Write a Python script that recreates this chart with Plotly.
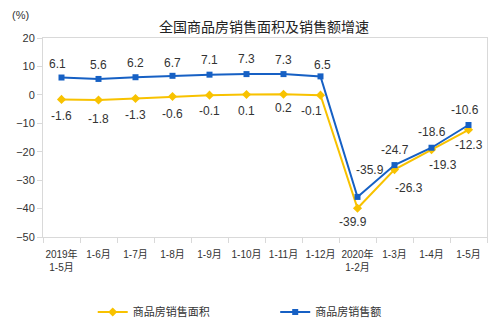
import plotly.graph_objects as go

# Reporting periods (cumulative since January)
periods = ["2019年<br>1-5月", "1-6月", "1-7月", "1-8月", "1-9月", "1-10月",
           "1-11月", "1-12月", "2020年<br>1-2月", "1-3月", "1-4月", "1-5月"]

# Year-on-year growth, %
area_growth = [-1.6, -1.8, -1.3, -0.6, -0.1, 0.1, 0.2, -0.1, -39.9, -26.3, -19.3, -12.3]
sales_growth = [6.1, 5.6, 6.2, 6.7, 7.1, 7.3, 7.3, 6.5, -35.9, -24.7, -18.6, -10.6]

y_ticks = [20, 10, 0, -10, -20, -30, -40, -50]

AREA_NAME = "商品房销售面积"
SALES_NAME = "商品房销售额"

YELLOW = "#F8C200"
BLUE = "#1660C4"
FONT = "Liberation Sans, Arial, Noto Sans CJK SC"
TEXT = "#333333"

# Label offsets in pixels (dx, dy) for each point
sales_offsets = [(-4, 14), (0, 14), (0, 14), (0, 13), (0, 15), (0, 15), (0, 14), (2, 11),
                 (12, 27), (0, 15), (0, 16), (-4, 15)]
area_offsets = [(0, -17), (0, -19), (0, -16), (0, -17), (0, -16), (0, -16), (0, -14), (-9, -16),
                (-5, -14), (14, -18), (11, -15), (0, -15)]

fig = go.Figure()
fig.add_trace(go.Scatter(
    x=periods, y=area_growth, name=AREA_NAME, mode="lines+markers",
    line=dict(color=YELLOW, width=2),
    marker=dict(symbol="diamond", size=7, color=YELLOW),
    legend="legend",
))
fig.add_trace(go.Scatter(
    x=periods, y=sales_growth, name=SALES_NAME, mode="lines+markers",
    line=dict(color=BLUE, width=2),
    marker=dict(symbol="square", size=6, color=BLUE),
    legend="legend2",
))

annotations = []
for xs, ys, offs in ((periods, sales_growth, sales_offsets), (periods, area_growth, area_offsets)):
    for xv, yv, (dx, dy) in zip(xs, ys, offs):
        annotations.append(dict(
            x=xv, y=yv, text=f"{yv:.1f}", showarrow=False,
            xshift=dx, yshift=dy, font=dict(size=12, color=TEXT, family=FONT),
        ))

annotations.append(dict(
    xref="paper", yref="paper", x=-0.05, y=1.115, xanchor="center", yanchor="middle",
    text="(%)", showarrow=False, font=dict(size=11, color=TEXT, family=FONT),
))

legend_style = dict(yref="container", yanchor="middle", y=0.034, xanchor="left",
                    bgcolor="rgba(0,0,0,0)",
                    font=dict(size=11, family="Noto Sans CJK SC", color=TEXT), itemwidth=30)

fig.update_layout(
    width=500, height=323,
    margin=dict(l=43, r=13, t=38, b=86, autoexpand=False),
    paper_bgcolor="white", plot_bgcolor="white",
    title=dict(text="全国商品房销售面积及销售额增速", x=0.528, xanchor="center",
               y=0.915, yanchor="middle",
               font=dict(size=14, color="#222222", family="Noto Sans CJK SC")),
    font=dict(family=FONT, color=TEXT, size=11),
    showlegend=True,
    legend=dict(x=0.112, **legend_style),
    legend2=dict(x=0.523, **legend_style),
    annotations=annotations,
)

fig.update_xaxes(
    type="category", showline=True, linecolor="#D9D9D9", linewidth=1, mirror=True,
    ticks="outside", ticklen=5, tickcolor="#D9D9D9", tickson="boundaries",
    showgrid=False, tickangle=0, automargin=False, ticklabelstandoff=8,
    tickfont=dict(size=10, family=FONT, color=TEXT),
    range=[-0.5, len(periods) - 0.5],
)
fig.update_yaxes(
    range=[-50, 20], tickvals=y_ticks, showline=True, linecolor="#D9D9D9", linewidth=1,
    mirror=True, ticks="outside", ticklen=5, tickcolor="#D9D9D9", showgrid=False,
    zeroline=False, automargin=False, tickfont=dict(size=11, family=FONT, color=TEXT),
)

fig.write_html("out.html")
